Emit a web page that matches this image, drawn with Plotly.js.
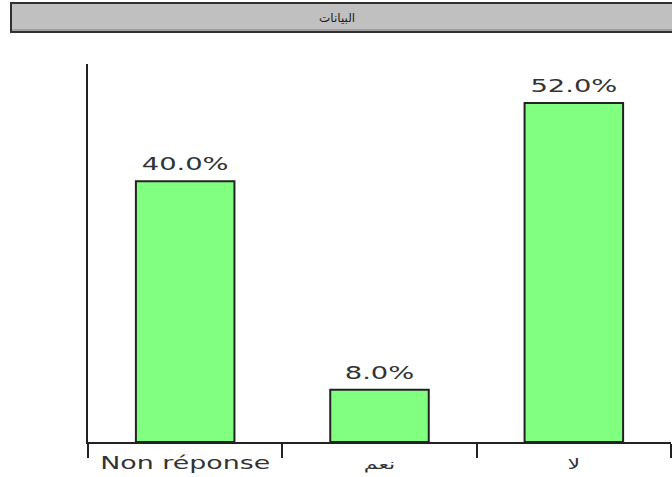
<!DOCTYPE html>
<html>
<head>
<meta charset="utf-8">
<script src="https://cdn.plot.ly/plotly-3.0.1.min.js"></script>
<style>
html, body { margin: 0; padding: 0; background: #fff; }
#chart { width: 672px; height: 477px; }
</style>
</head>
<body>
<div id="chart"></div>
<script>
var categories = ["Non réponse", "نعم", "لا"];
var percentages = [40.0, 8.0, 52.0];
var valueLabels = ["40.0%", "8.0%", "52.0%"];
var chartTitle = "البيانات";

var tickText = categories.map(function (c) {
  return /[\u0600-\u06FF]/.test(c) ? '<span style="font-size:14px">' + c + '</span>' : c;
});

var bars = {
  type: "bar",
  x: categories,
  y: percentages,
  width: 0.507,
  marker: { color: "#80ff80", line: { color: "#222222", width: 2 } },
  hoverinfo: "none"
};

var labels = {
  type: "scatter",
  mode: "markers+text",
  x: categories,
  y: percentages,
  text: valueLabels,
  textposition: "top center",
  textfont: { family: "DejaVu Sans", size: 18, color: "#333333" },
  marker: { size: 9, opacity: 0 },
  cliponaxis: false,
  hoverinfo: "none"
};

var L = 88, R = 1, T = 64, B = 35, W = 672, H = 477;
var pw = W - L - R, ph = H - T - B;
function px(x) { return (x - L) / pw; }
function py(y) { return (H - B - y) / ph; }

var layout = {
  width: W, height: H,
  margin: { l: L, r: R, t: T, b: B, pad: 0 },
  paper_bgcolor: "#ffffff",
  plot_bgcolor: "#ffffff",
  showlegend: false,
  bargap: 0,
  xaxis: {
    type: "category",
    range: [-0.5, 2.5],
    tickmode: "array", tickvals: categories, ticktext: tickText,
    showline: true, linecolor: "#222222", linewidth: 2,
    ticks: "outside", tickson: "boundaries", ticklen: 14, tickwidth: 2, tickcolor: "#222222",
    ticklabelstandoff: 5,
    showgrid: false, zeroline: false, fixedrange: true,
    tickfont: { family: "DejaVu Sans", size: 17, color: "#333333" }
  },
  yaxis: {
    range: [0, 58],
    showline: true, linecolor: "#222222", linewidth: 2,
    ticks: "", showticklabels: false, showgrid: false, zeroline: false, fixedrange: true
  },
  shapes: [
    { type: "rect", xref: "paper", yref: "paper",
      x0: px(11), x1: px(680), y0: py(32), y1: py(3),
      fillcolor: "#c0c0c0", line: { color: "#303030", width: 2 }, layer: "above" },
    { type: "line", xref: "paper", yref: "paper",
      x0: px(12), x1: px(680), y0: py(30), y1: py(30),
      line: { color: "#808080", width: 1 }, layer: "above" }
  ],
  annotations: [
    { text: chartTitle, xref: "paper", yref: "paper", x: px(337), y: py(17.5),
      xanchor: "center", yanchor: "middle", showarrow: false,
      font: { family: "DejaVu Sans", size: 12, color: "#222222" } }
  ]
};

function stretch(sel, k) {
  var nodes = document.querySelectorAll(sel);
  nodes.forEach(function (n) {
    var bb = n.getBBox();
    var cx = bb.x + bb.width / 2;
    var t = n.getAttribute("transform") || "";
    n.setAttribute("transform", t + " translate(" + cx + ",0) scale(" + k + ",1) translate(" + (-cx) + ",0)");
  });
}

Plotly.newPlot("chart", [bars, labels], layout, { staticPlot: true, displayModeBar: false }).then(function () {
  stretch("#chart .textpoint text", 1.52);
  stretch("#chart .xtick text", 1.58);
});
</script>
</body>
</html>
